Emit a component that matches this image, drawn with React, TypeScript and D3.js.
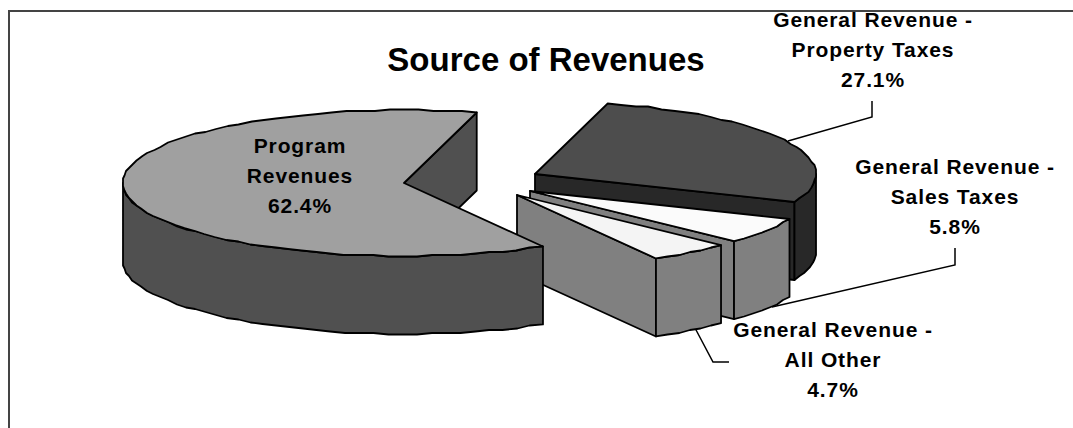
import * as d3 from "d3"

const categories = ["Property Taxes", "Sales Taxes", "All Other", "Program Revenues"]
const shares = [27.1, 5.8, 4.7, 62.4]
const topColors = ["#4d4d4d", "#fbfbfb", "#f4f4f4", "#a0a0a0"]
const wallColors = ["#282828", "#808080", "#808080", "#505050"]

const W = 1073, H = 428
const RX = 281, RY = 73, DEPTH = 78
const START = (15 * Math.PI) / 180
// apex of every slice once exploded
const apex: Record<string, [number, number]> = {
  "Property Taxes": [535, 174],
  "Sales Taxes": [530, 191],
  "All Other": [517, 195],
  "Program Revenues": [404, 183],
}

const pie = d3.pie<number>().sort(null).startAngle(START).endAngle(START + Math.PI * 2)
const arcs = pie(shares)
const line = d3.line()
const STEP = (3 * Math.PI) / 180

// the source was drawn on a coarse device grid, so the rim is a bit jagged
const snap = (v: number) => Math.round(v / 1.5) * 1.5

function rim(a0: number, a1: number, [cx, cy]: [number, number], dy = 0) {
  const n = Math.max(1, Math.round((a1 - a0) / STEP))
  return d3.range(n + 1).map(i => {
    const [px, py] = d3.pointRadial(a0 + ((a1 - a0) * i) / n, 1)
    const inner = i > 0 && i < n
    const x = cx + RX * px, y = cy + RY * py
    return [inner ? snap(x) : x, (inner ? snap(y) : y) + dy] as [number, number]
  })
}

function topPath(a0: number, a1: number, c: [number, number]) {
  return line([c, ...rim(a0, a1, c)])! + "Z"
}
function outerWall(a0: number, a1: number, c: [number, number]) {
  const lo = Math.max(a0, Math.PI / 2), hi = Math.min(a1, Math.PI * 1.5)
  if (hi <= lo) return null
  return line([...rim(lo, hi, c), ...rim(lo, hi, c, DEPTH).reverse()])! + "Z"
}
function cutFace(a: number, c: [number, number]) {
  const p = rim(a, a, c)[0]
  return line([c, p, [p[0], p[1] + DEPTH], [c[0], c[1] + DEPTH]])! + "Z"
}

const labels = [
  { lines: ["General Revenue -", "Property Taxes", "27.1%"], x: 873, y: 27 },
  { lines: ["General Revenue -", "Sales Taxes", "5.8%"], x: 955, y: 174 },
  { lines: ["General Revenue -", "All Other", "4.7%"], x: 833, y: 337 },
  { lines: ["Program", "Revenues", "62.4%"], x: 300, y: 153 },
]
const leaders: [number, number][][] = [
  [[788, 141], [872, 117], [872, 101]],
  [[772, 307], [955, 265], [955, 248]],
  [[695, 328], [713, 362], [729, 362]],
]

const stroke = { stroke: "#000", strokeWidth: 1.8, strokeLinejoin: "round" as const }

export default function App() {
  return (
    <svg width={W} height={H} style={{ position: "absolute", left: 0, top: 0, background: "#fff" }}
      fontFamily="'Liberation Sans', Arial, sans-serif">
      <path d={`M9,${H}V11H${W}`} fill="none" stroke="#444" strokeWidth={2} />
      {leaders.map((l, i) => <path key={i} d={line(l)!} fill="none" stroke="#000" strokeWidth={1.5} />)}
      {arcs.map((a, i) => {
        const c = apex[categories[i]]
        const wall = outerWall(a.startAngle, a.endAngle, c)
        return (
          <g key={categories[i]} {...stroke}>
            <path d={cutFace(a.endAngle, c)} fill={wallColors[i]} />
            {wall && <path d={wall} fill={wallColors[i]} />}
            <path d={topPath(a.startAngle, a.endAngle, c)} fill={topColors[i]} />
          </g>
        )
      })}
      <text x={546} y={71} textAnchor="middle" fontSize={33} fontWeight="bold" fill="#000">Source of Revenues</text>
      {labels.map((l, i) => (
        <text key={i} textAnchor="middle" fontSize={21} fontWeight="bold" letterSpacing={0.9} fill="#000">
          {l.lines.map((s, j) => <tspan key={j} x={l.x} y={l.y + j * 30.2}>{s}</tspan>)}
        </text>
      ))}
    </svg>
  )
}
